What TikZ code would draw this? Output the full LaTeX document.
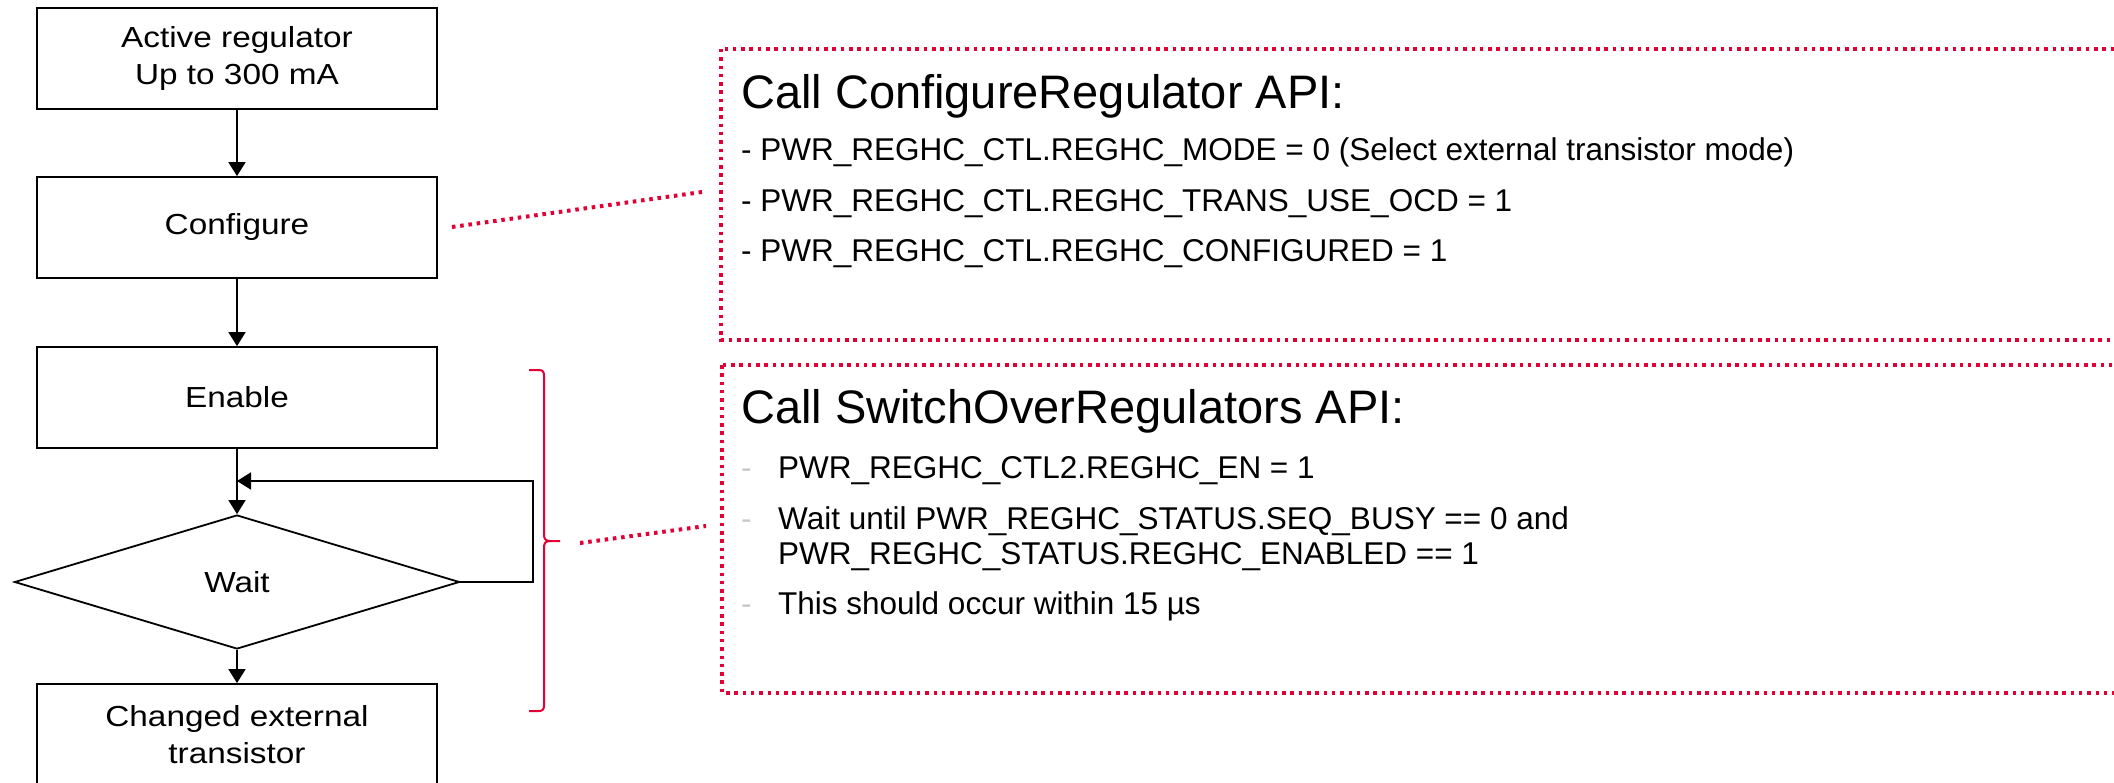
\documentclass[tikz,border=0pt]{standalone}
\usepackage{fontspec}
\setmainfont{Liberation Sans}
\newfontfamily\flowfont[FakeStretch=1.15]{Liberation Sans}
\usetikzlibrary{arrows.meta,shapes.geometric}
\definecolor{ifxred}{RGB}{227,0,52}
\definecolor{bulletgray}{RGB}{200,200,200}
\begin{document}
\begin{tikzpicture}[x=1pt,y=-1pt,
  flowbox/.style={draw=black,line width=1.8pt,rectangle,minimum width=400pt,minimum height=101pt,inner sep=0pt,align=center,font=\flowfont\fontsize{29}{36.5}\selectfont},
  waitshape/.style={draw=black,line width=1.8pt,diamond,minimum width=445pt,minimum height=134pt,inner sep=0pt,aspect=3.3,font=\flowfont\fontsize{29}{36.5}\selectfont},
  flowarrow/.style={draw=black,line width=1.8pt,-{Triangle[width=17pt,length=14pt]}},
  flowline/.style={draw=black,line width=1.8pt},
  reddotbox/.style={draw=ifxred,line width=3.5pt,dash pattern=on 3.5pt off 4.8pt},
  reddotline/.style={draw=ifxred,line width=4pt,dash pattern=on 3.5pt off 4.8pt},
  bracestyle/.style={draw=ifxred,line width=2pt},
  titletext/.style={anchor=base west,inner sep=0pt,font=\fontsize{47}{56}\selectfont},
  itemtext/.style={anchor=base west,inner sep=0pt,font=\fontsize{31.5}{35}\selectfont},
  graydash/.style={anchor=base west,inner sep=0pt,text=bulletgray,font=\fontsize{31.5}{35}\selectfont}
]
\useasboundingbox (0,0) rectangle (2114,783);
\clip (0,0) rectangle (2114,783);

% flow chart
\node[flowbox] (active) at (237,58.5) {Active regulator\\Up to 300 mA};
\node[flowbox] (config) at (237,227.5) {Configure};
\node[flowbox] (enable) at (237,397.5) {Enable};
\node[waitshape] (wait) at (237,582) {Wait};
\node[flowbox] (changed) at (237,734.5) {Changed external\\transistor};

\coordinate (loopjoin) at (237,481);
\coordinate (loopr) at (533,582);
\coordinate (loopt) at (533,481);

\draw[flowarrow] (active.south) -- (config.north);
\draw[flowarrow] (config.south) -- (enable.north);
\draw[flowarrow] (enable.south) -- (wait.north);
\draw[flowline] (wait.east) -- (loopr) -- (loopt) -- ([xshift=8pt]loopjoin);
\draw[flowarrow] (loopt) -- (loopjoin);
\draw[flowarrow] (wait.south) -- (changed.north);

% brace
\draw[bracestyle] (529,370) -- (539,370) .. controls (543,370) and (544,372) .. (544,376) -- (544,535) .. controls (544,539) and (546,541) .. (550,541) -- (560,541);
\draw[bracestyle] (550,541) .. controls (546,541) and (544,543) .. (544,547) -- (544,705) .. controls (544,709) and (543,711) .. (539,711) -- (529,711);

% dotted callout connectors
\coordinate (c1a) at (452,227);
\coordinate (c1b) at (702,192);
\coordinate (c2a) at (580,543);
\coordinate (c2b) at (706,526);
\draw[reddotline] (c1a) -- (c1b);
\draw[reddotline] (c2a) -- (c2b);

% dotted boxes
\draw[reddotbox] (721,49) rectangle (2135,340);
\draw[reddotbox] (722,365) rectangle (2135,693);

% box 1 text
\node[titletext] (t1) at (741,109) {Call ConfigureRegulator API:};
\node[itemtext] (a1) at (741,161) {- PWR\_REGHC\_CTL.REGHC\_MODE = 0 (Select external transistor mode)};
\node[itemtext] (a2) at (741,211.5) {- PWR\_REGHC\_CTL.REGHC\_TRANS\_USE\_OCD = 1};
\node[itemtext] (a3) at (741,261.5) {- PWR\_REGHC\_CTL.REGHC\_CONFIGURED = 1};

% box 2 text
\node[titletext] (t2) at (741,423) {Call SwitchOverRegulators API:};
\node[graydash] (d1) at (741,478) {-};
\node[itemtext] (b1) at (778,478) {PWR\_REGHC\_CTL2.REGHC\_EN = 1};
\node[graydash] (d2) at (741,529) {-};
\node[itemtext] (b2) at (778,529) {Wait until PWR\_REGHC\_STATUS.SEQ\_BUSY == 0 and};
\node[itemtext] (b2b) at (778,564) {PWR\_REGHC\_STATUS.REGHC\_ENABLED == 1};
\node[graydash] (d3) at (741,614) {-};
\node[itemtext] (b3) at (778,614) {This should occur within 15 µs};
\end{tikzpicture}
\end{document}
